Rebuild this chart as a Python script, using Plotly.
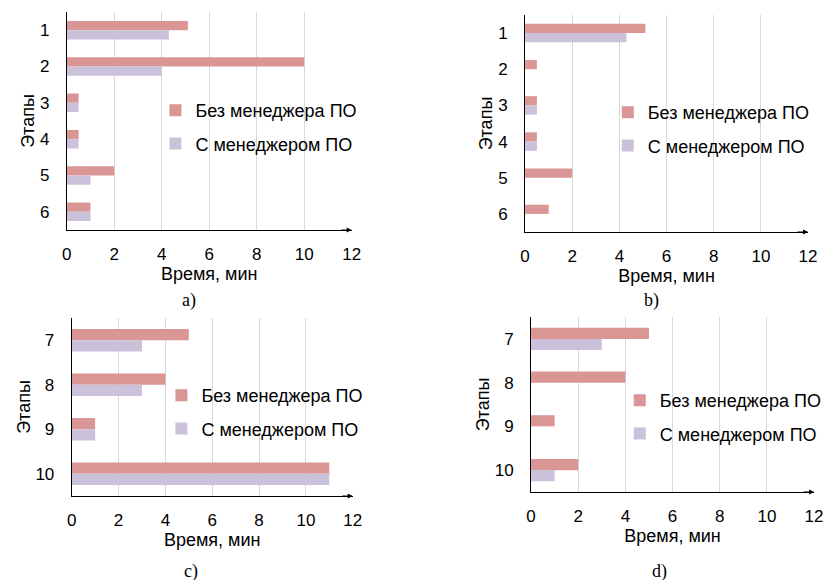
import plotly.graph_objects as go

# ---- data ----
stages_top = ["1", "2", "3", "4", "5", "6"]
stages_bottom = ["7", "8", "9", "10"]
series_names = ["Без менеджера ПО", "С менеджером ПО"]

a_without = [5.1, 10, 0.5, 0.5, 2, 1]
a_with = [4.3, 4, 0.5, 0.5, 1, 1]
b_without = [5.1, 0.5, 0.5, 0.5, 2, 1]
b_with = [4.3, None, 0.5, 0.5, None, None]
c_without = [5, 4, 1, 11]
c_with = [3, 3, 1, 11]
d_without = [5, 4, 1, 2]
d_with = [3, None, None, 1]

x_ticks = [0, 2, 4, 6, 8, 10, 12]
captions = ["a)", "b)", "c)", "d)"]
x_title = "Время, мин"
y_title = "Этапы"

COL_WITHOUT = "#D99694"
COL_WITH = "#CCC1DA"
FONT = "Liberation Sans, Arial, sans-serif"
W, H = 827, 580

# layout positions in window pixels
panels = [
    dict(cats=stages_top, v1=a_without, v2=a_with, x0=67, x1=353, yt=12, yb=230, lx=196, ly=127, cx=190, cy=300),
    dict(cats=stages_top, v1=b_without, v2=b_with, x0=527, x1=811, yt=15, yb=232, lx=650, ly=129, cx=654, cy=300),
    dict(cats=stages_bottom, v1=c_without, v2=c_with, x0=72, x1=354, yt=318, yb=496, lx=202, ly=412, cx=192, cy=571),
    dict(cats=stages_bottom, v1=d_without, v2=d_with, x0=533, x1=817, yt=317, yb=492, lx=662, ly=417, cx=662, cy=571),
]


def px(x):
    return x / W


def py(y):
    return 1 - y / H


fig = go.Figure()
annotations = []
layout = {}

for i, p in enumerate(panels):
    n = "" if i == 0 else str(i + 1)
    xa, ya = "x" + n, "y" + n
    leg = "legend" + n
    for name, vals, col in [(series_names[0], p["v1"], COL_WITHOUT), (series_names[1], p["v2"], COL_WITH)]:
        fig.add_trace(go.Bar(
            y=p["cats"], x=vals, orientation="h", name=name,
            marker=dict(color=col, line=dict(width=0)),
            xaxis=xa, yaxis=ya, legend=leg, legendgroup=name + n,
        ))
    layout["xaxis" + n] = dict(
        domain=[px(p["x0"]), px(p["x1"])], anchor=ya, range=[0, 12],
        tickvals=x_ticks, showgrid=True, gridcolor="#D9D9D9", gridwidth=1,
        showline=True, linecolor="black", linewidth=1, zeroline=False,
        ticks="outside", ticklen=9, tickcolor="rgba(0,0,0,0)",
        tickfont=dict(family=FONT, size=17, color="black"),
        title=dict(text=x_title, standoff=2, font=dict(family=FONT, size=18, color="black")),
        automargin=False, fixedrange=True,
    )
    layout["yaxis" + n] = dict(
        domain=[py(p["yb"]), py(p["yt"])], anchor=xa,
        autorange="reversed", type="category",
        showgrid=False, showline=True, linecolor="black", linewidth=1,
        ticks="outside", ticklen=13, tickcolor="rgba(0,0,0,0)",
        tickfont=dict(family=FONT, size=17, color="black"),
        title=dict(text=y_title, standoff=0, font=dict(family=FONT, size=18, color="black")),
        automargin=False, fixedrange=True,
    )
    layout[leg] = dict(
        x=px(p["lx"] - 40), xanchor="left",
        y=py(p["ly"]), yanchor="middle",
        bgcolor="rgba(0,0,0,0)", borderwidth=0,
        font=dict(family=FONT, size=18, color="black"),
        traceorder="grouped", tracegroupgap=7, itemwidth=30,
    )
    annotations.append(dict(
        x=12, y=0, xref=xa, yref=ya + " domain", ax=-12, ay=0,
        showarrow=True, arrowhead=2, arrowsize=1, arrowwidth=1,
        arrowcolor="black", text="",
    ))
    annotations.append(dict(
        x=px(p["cx"]), y=py(p["cy"]), xref="paper", yref="paper",
        text=captions[i], showarrow=False,
        font=dict(family="Liberation Serif, Times New Roman, serif", size=18, color="black"),
        xanchor="center", yanchor="middle",
    ))

fig.update_layout(
    width=W, height=H,
    margin=dict(l=0, r=0, t=0, b=0),
    paper_bgcolor="white", plot_bgcolor="white",
    barmode="group", bargap=0.49, bargroupgap=0,
    annotations=annotations,
    **layout,
)

fig.write_html(
    "out.html",
    config={"displayModeBar": False, "staticPlot": True},
    post_script="document.body.style.margin='0';document.body.style.overflow='hidden';",
)
